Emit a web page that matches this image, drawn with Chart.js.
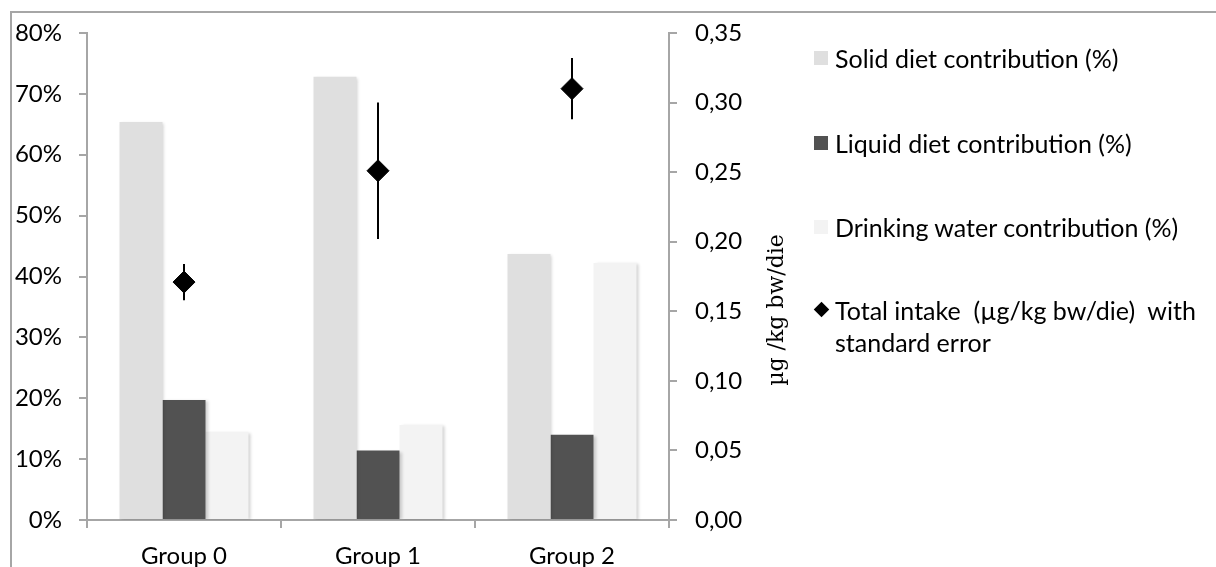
<!DOCTYPE html>
<html>
<head>
<meta charset="utf-8">
<script src="https://cdn.jsdelivr.net/npm/chart.js@4.4.0/dist/chart.umd.min.js"></script>
<style>
body { margin: 0; background: #fff; }
#wrap { position: relative; width: 1216px; height: 567px; overflow: hidden; }
#frame { position: absolute; left: 10px; top: 11px; width: 1400px; height: 800px; border-left: 2px solid #a6a6a6; border-top: 2px solid #a6a6a6; }
#chart { position: absolute; left: 0; top: 0; }
#legend { position: absolute; left: 814px; top: 0; font-family: Lato; font-size: 25px; color: #000; }
.item { position: absolute; left: 0; width: 390px; }
.mark { position: absolute; left: 0; }
.txt { position: absolute; left: 21px; width: 375px; white-space: pre-wrap; line-height: 32px; }
</style>
</head>
<body>
<div id="wrap">
  <div id="frame"></div>
  <canvas id="chart" width="1216" height="567"></canvas>
  <div id="legend"></div>
</div>
<script>
const groups = ['Group 0', 'Group 1', 'Group 2'];
const solidDiet = [65.4, 72.8, 43.7];
const liquidDiet = [19.7, 11.4, 14.0];
const drinkingWater = [14.5, 15.6, 42.2];
const totalIntake = [0.171, 0.251, 0.310];
const intakeError = [0.013, 0.049, 0.022];
const seriesNames = [
    'Solid diet contribution (%)',
    'Liquid diet contribution (%)',
    'Drinking water contribution (%)',
    'Total intake  (µg/kg bw/die)  with standard error'
];
const rightAxisTitle = 'µg /kg bw/die';
const seriesColors = ['#dfdfdf', '#525252', '#f3f3f3', '#000000'];

const axisColor = '#a6a6a6';
const tickFont = { family: 'Lato', size: 24 };

// error bars + right axis title
const extras = {
    id: 'extras',
    beforeDatasetDraw(chart, args) {
        if (args.meta.type === 'bar') {
            const c = chart.ctx;
            c.save();
            c.shadowColor = 'rgba(0,0,0,0.18)';
            c.shadowBlur = 3;
            c.shadowOffsetX = 2;
            c.shadowOffsetY = 1;
        }
        if (args.meta.type === 'line') {
            const c = chart.ctx;
            const y1 = chart.scales.y1;
            c.save();
            c.strokeStyle = '#000';
            c.lineWidth = 2;
            args.meta.data.forEach(function(pt, i) {
                c.beginPath();
                c.moveTo(pt.x, y1.getPixelForValue(totalIntake[i] + intakeError[i]));
                c.lineTo(pt.x, y1.getPixelForValue(totalIntake[i] - intakeError[i]));
                c.stroke();
            });
            c.restore();
        }
    },
    afterDatasetDraw(chart, args) {
        if (args.meta.type === 'bar') chart.ctx.restore();
    },
    afterDraw(chart) {
        const c = chart.ctx;
        const s = chart.scales.y1;
        c.save();
        c.translate(s.right + 28, 310);
        c.rotate(-Math.PI / 2);
        c.font = '22px "DejaVu Serif"';
        c.fillStyle = '#000';
        c.textAlign = 'center';
        c.textBaseline = 'middle';
        c.fillText(rightAxisTitle, 0, 0);
        c.restore();
    }
};

var ctx = document.getElementById('chart').getContext('2d');
var myChart = new Chart(ctx, {
    type: 'bar',
    data: {
        labels: groups,
        datasets: [
            { label: seriesNames[0], data: solidDiet, backgroundColor: seriesColors[0], yAxisID: 'y', order: 2 },
            { label: seriesNames[1], data: liquidDiet, backgroundColor: seriesColors[1], yAxisID: 'y', order: 2 },
            { label: seriesNames[2], data: drinkingWater, backgroundColor: seriesColors[2], yAxisID: 'y', order: 2 },
            {
                type: 'line', label: seriesNames[3], data: totalIntake, yAxisID: 'y1', order: 1,
                showLine: false, pointStyle: 'rectRot', pointRadius: 11,
                pointBackgroundColor: seriesColors[3], pointBorderColor: seriesColors[3], pointBorderWidth: 1
            }
        ]
    },
    options: {
        responsive: false,
        animation: false,
        events: [],
        datasets: { bar: { categoryPercentage: 0.665, barPercentage: 1 } },
        layout: { padding: { top: 33, right: 467, bottom: 0, left: 0 } },
        plugins: { legend: { display: false }, tooltip: { enabled: false } },
        scales: {
            x: {
                grid: { offset: true, drawOnChartArea: false, tickLength: 8, color: axisColor, lineWidth: 2 },
                border: { color: axisColor, width: 2 },
                ticks: { font: tickFont, color: '#000', padding: 14 },
                afterFit: function(s) { s.height = 47; }
            },
            y: {
                position: 'left', min: 0, max: 80,
                grid: { drawOnChartArea: false, tickLength: 8, color: axisColor, lineWidth: 2 },
                border: { color: axisColor, width: 2 },
                ticks: { stepSize: 10, font: tickFont, color: '#000', padding: 17, callback: v => v + '%' },
                afterFit: function(s) { s.width = 87; }
            },
            y1: {
                position: 'right', min: 0, max: 0.35,
                grid: { drawOnChartArea: false, tickLength: 8, color: axisColor, lineWidth: 2 },
                border: { color: axisColor, width: 2 },
                ticks: { stepSize: 0.05, font: tickFont, color: '#000', padding: 18, callback: v => v.toFixed(2).replace('.', ',') },
                afterFit: function(s) { s.width = 80; }
            }
        }
    },
    plugins: [extras]
});

// legend
var legend = document.getElementById('legend');
var centers = [58, 143, 227, 310];
seriesNames.forEach(function(name, i) {
    var item = document.createElement('div');
    item.className = 'item';
    item.style.top = (centers[i] - 16) + 'px';
    var mark = document.createElement('div');
    mark.className = 'mark';
    if (i < 3) {
        mark.style.cssText = 'top:9px;width:14px;height:14px;background:' + seriesColors[i];
    } else {
        mark.style.cssText = 'top:8px;width:11px;height:11px;background:#000;transform:translate(2px,2px) rotate(45deg)';
    }
    var txt = document.createElement('div');
    txt.className = 'txt';
    txt.textContent = name;
    item.appendChild(mark);
    item.appendChild(txt);
    legend.appendChild(item);
});
</script>
</body>
</html>
